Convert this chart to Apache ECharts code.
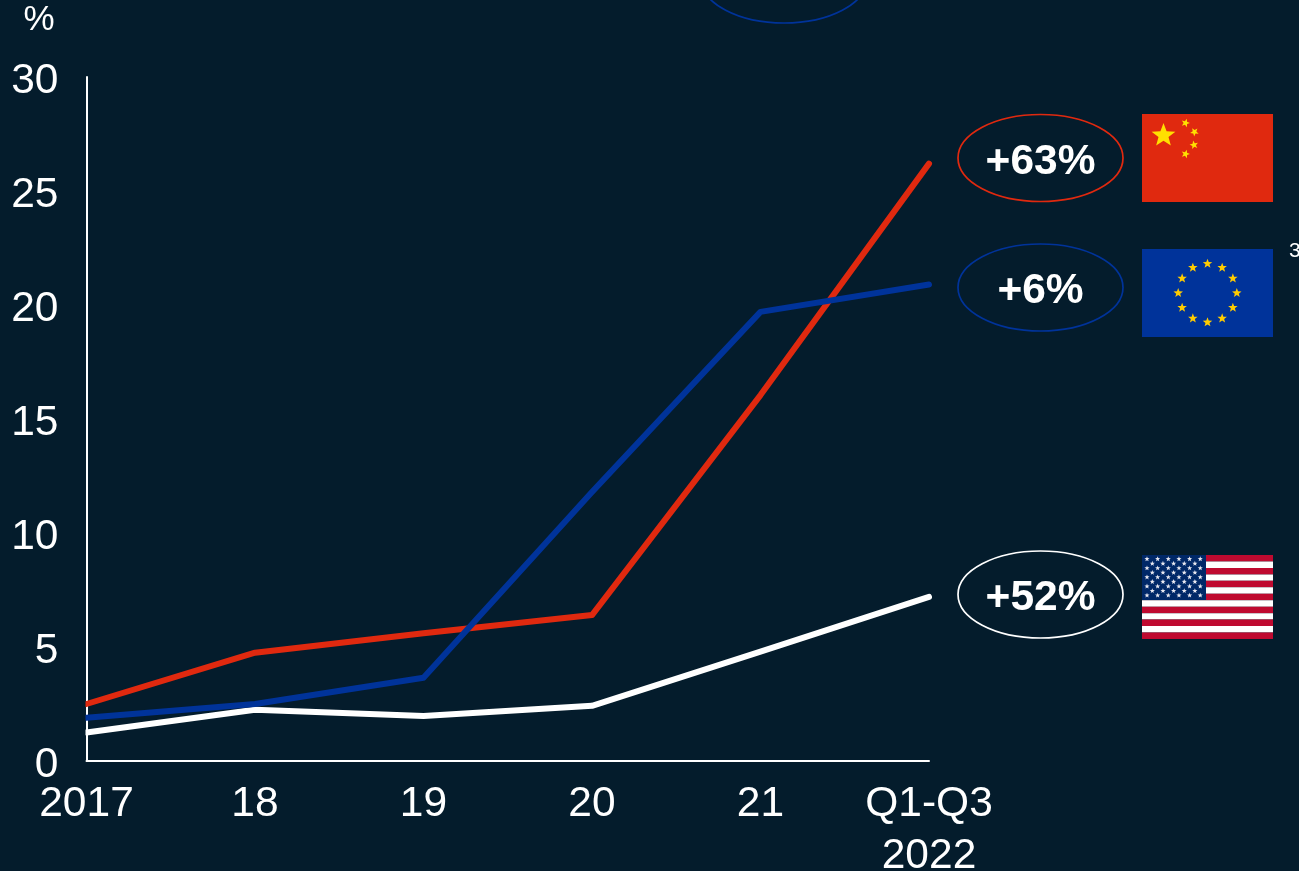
<!DOCTYPE html>
<html><head><meta charset="utf-8">
<style>html,body{margin:0;padding:0;background:#041c2c}#c{width:1299px;height:871px}</style>
<script src="https://cdn.jsdelivr.net/npm/echarts@6/dist/echarts.min.js"></script>
</head><body><div id="c"></div>
<script>
const categories = ['2017','18','19','20','21','Q1-Q3\n2022'];
const yTicks = [0,5,10,15,20,25,30];
const china = [2.5,4.75,5.6,6.4,16.05,26.2];
const eu = [1.9,2.5,3.65,11.8,19.7,20.9];
const us = [1.25,2.25,1.97,2.42,4.8,7.2];
const growthLabels = ['+63%','+6%','+52%'];

const BG='#041c2c', RED='#e0290f', BLUE='#00339a', FONT='"Liberation Sans",Arial,sans-serif';
const chart = echarts.init(document.getElementById('c'),null,{renderer:'canvas'});

function star(cx,cy,r,fill,rot){
  const pts=[];
  for(let i=0;i<10;i++){
    const a=-Math.PI/2+(rot||0)+i*Math.PI/5, R=i%2?r*0.42:r;
    pts.push([cx+R*Math.cos(a),cy+R*Math.sin(a)]);
  }
  return {type:'polygon',silent:true,z:20,shape:{points:pts},style:{fill}};
}
function ring(cx,cy,color,label){
  const out=[{type:'ellipse',silent:true,z:10,shape:{cx,cy,rx:82.5,ry:43.5},style:{fill:'transparent',stroke:color,lineWidth:1.7}}];
  if(label) out.push({type:'text',silent:true,z:11,x:cx,y:cy+4,style:{text:label,fill:'#fff',font:'bold 42.5px '+FONT,textAlign:'center',textVerticalAlign:'middle'}});
  return out;
}
const g=[];
// keeps the line starts flush with the value axis
g.push({type:'rect',silent:true,z:10,shape:{x:78,y:690,width:7.5,height:55},style:{fill:BG}});
g.push({type:'text',silent:true,x:39,y:20,style:{text:'%',fill:'#fff',font:'35px '+FONT,textAlign:'center',textVerticalAlign:'middle'}});
g.push(...ring(784,-20.5,BLUE,null));
g.push(...ring(1040.5,158,RED,growthLabels[0]));
g.push(...ring(1040.5,287.5,BLUE,growthLabels[1]));
g.push(...ring(1040.5,594.5,'#ffffff',growthLabels[2]));
g.push({type:'text',silent:true,x:1289,y:251,style:{text:'3',fill:'#fff',font:'21px '+FONT,textAlign:'left',textVerticalAlign:'middle'}});
// China flag
g.push({type:'rect',silent:true,z:19,shape:{x:1142,y:114,width:131,height:88},style:{fill:RED}});
g.push(star(1163.5,135.5,12.5,'#ffe000'));
[[1185.5,123,0.3],[1194.5,132,0.7],[1194,145,-0.2],[1185.5,154,0.3]].forEach(s=>g.push(star(s[0],s[1],4.5,'#ffe000',s[2])));
// EU flag
g.push({type:'rect',silent:true,z:19,shape:{x:1142,y:249,width:131,height:88},style:{fill:BLUE}});
for(let i=0;i<12;i++){const a=i*Math.PI/6;g.push(star(1207.5+29.3*Math.sin(a),293-29.3*Math.cos(a),5,'#ffcc00'));}
// US flag
const sh=84/13;
for(let i=0;i<13;i++) g.push({type:'rect',silent:true,z:19,shape:{x:1142,y:555+i*sh,width:131,height:sh},style:{fill:i%2?'#ffffff':'#bf0a30'}});
g.push({type:'rect',silent:true,z:20,shape:{x:1142,y:555,width:64,height:45},style:{fill:'#002868'}});
for(let r=0;r<9;r++){const n=r%2?5:6;for(let c=0;c<n;c++){
  g.push(star(1147+(r%2?5.3:0)+c*10.65,559+r*4.55,2.7,'#e8e8f0'));
}}

chart.setOption({
  backgroundColor:BG,
  animation:false,
  grid:{left:86.5,right:370,top:77,bottom:110,outerBoundsMode:'none'},
  xAxis:{type:'category',data:categories,boundaryGap:false,
    axisLine:{lineStyle:{color:'#fff',width:2}},axisTick:{show:false},
    axisLabel:{color:'#fff',fontFamily:FONT,fontSize:42.5,lineHeight:52,margin:17,interval:0,align:'center',hideOverlap:false},splitLine:{show:false}},
  yAxis:{type:'value',min:yTicks[0],max:yTicks[yTicks.length-1],interval:5,
    axisLine:{show:true,lineStyle:{color:'#fff',width:2}},axisTick:{show:false},
    axisLabel:{margin:28,formatter:'{v|{value}}',rich:{v:{color:'#fff',fontFamily:FONT,fontSize:42.5,padding:[9,0,0,0]}}},splitLine:{show:false}},
  series:[
    {name:'US',type:'line',data:us,symbol:'none',clip:false,lineStyle:{color:'#fff',width:6,cap:'round',join:'round'},z:3},
    {name:'China',type:'line',data:china,symbol:'none',clip:false,lineStyle:{color:RED,width:6,cap:'round',join:'round'},z:4},
    {name:'EU',type:'line',data:eu,symbol:'none',clip:false,lineStyle:{color:BLUE,width:6,cap:'round',join:'round'},z:5}
  ],
  graphic:g
});
</script></body></html>
